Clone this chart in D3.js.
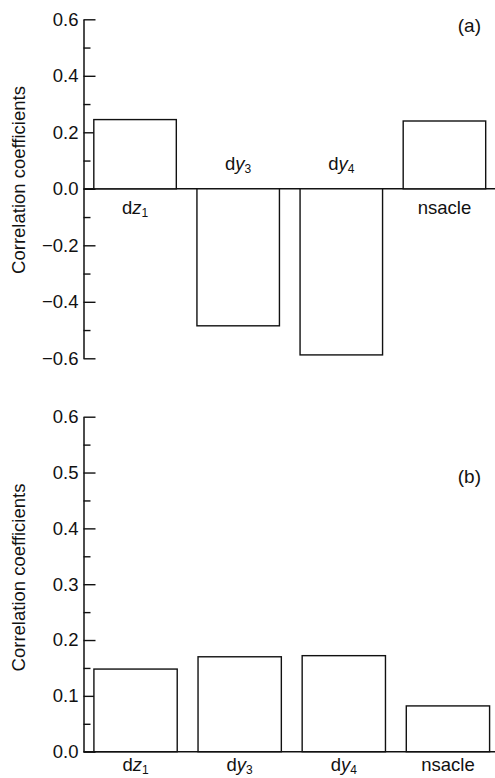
<!DOCTYPE html>
<html>
<head>
<meta charset="utf-8">
<script src="https://cdn.jsdelivr.net/npm/d3@7"></script>
<style>
  body { margin: 0; background: #fff; }
  svg text { font-family: "Liberation Sans", Arial, Helvetica, sans-serif; fill: #111; }
</style>
</head>
<body>
<div id="chart"></div>
<script>
var width = 495;
var height = 778;

// categories (base letter, italic letter, subscript)
var categories = [
    { key: "dz1", pre: "d", ital: "z", sub: "1" },
    { key: "dy3", pre: "d", ital: "y", sub: "3" },
    { key: "dy4", pre: "d", ital: "y", sub: "4" },
    { key: "nsacle", pre: "nsacle", ital: "", sub: "" }
];

// panel (a) values
var valuesA = [0.245, -0.485, -0.588, 0.240];
// panel (b) values
var valuesB = [0.148, 0.170, 0.172, 0.082];

var majorTicksA = [-0.6, -0.4, -0.2, 0.0, 0.2, 0.4, 0.6];
var minorTicksA = [-0.5, -0.3, -0.1, 0.1, 0.3, 0.5];
var majorTicksB = [0.0, 0.1, 0.2, 0.3, 0.4, 0.5, 0.6];
var minorTicksB = [0.05, 0.15, 0.25, 0.35, 0.45, 0.55];

var svg = d3.select("#chart")
    .append("svg")
    .attr("width", width)
    .attr("height", height);

var fmt = d3.format(".1f");

function addLabel(g, cat, x, y) {
    var t = g.append("text")
        .attr("x", x)
        .attr("y", y)
        .attr("text-anchor", "middle")
        .style("font-size", "18.5px");
    t.append("tspan").text(cat.pre);
    if (cat.ital) t.append("tspan").style("font-style", "italic").text(cat.ital);
    if (cat.sub) t.append("tspan").attr("dy", 3.5).style("font-size", "12px").text(cat.sub);
}

function drawPanel(opts) {
    var g = svg.append("g");

    var x = d3.scaleBand()
        .domain(categories.map(function(d) { return d.key; }))
        .range(opts.xRange)
        .paddingInner(0.2)
        .paddingOuter(0.1);

    var y = d3.scaleLinear()
        .domain(opts.yDomain)
        .range(opts.yRange);

    // minor ticks
    g.append("g")
        .attr("transform", "translate(" + opts.axisX + ",0)")
        .call(d3.axisLeft(y).tickValues(opts.minor).tickSize(-7).tickFormat(""))
        .call(function(a) { a.select(".domain").remove(); })
        .selectAll("line").attr("stroke", "#111").attr("stroke-width", 1.4);

    // major ticks + labels
    var ax = g.append("g")
        .attr("transform", "translate(" + opts.axisX + ",0)")
        .call(d3.axisLeft(y).tickValues(opts.major).tickSize(-12).tickSizeOuter(0).tickPadding(5).tickFormat(fmt));
    ax.select(".domain").attr("stroke", "#111").attr("stroke-width", 1.5);
    ax.selectAll("line").attr("stroke", "#111").attr("stroke-width", 1.4);
    ax.selectAll("text")
        .style("font-size", "18.5px")
        .style("font-family", "'Liberation Sans', Arial, sans-serif")
        .attr("fill", "#111");

    // zero line
    g.append("line")
        .attr("x1", opts.axisX)
        .attr("x2", width)
        .attr("y1", y(0))
        .attr("y2", y(0))
        .attr("stroke", "#111")
        .attr("stroke-width", 1.4);

    // bars
    g.selectAll("rect.bar")
        .data(opts.values)
        .enter()
        .append("rect")
        .attr("class", "bar")
        .attr("x", function(d, i) { return x(categories[i].key); })
        .attr("y", function(d) { return y(Math.max(d, 0)); })
        .attr("width", x.bandwidth())
        .attr("height", function(d) { return Math.abs(y(d) - y(0)); })
        .attr("fill", "white")
        .attr("stroke", "#111")
        .attr("stroke-width", 1.4);

    // category labels
    opts.values.forEach(function(v, i) {
        var cx = x(categories[i].key) + x.bandwidth() / 2;
        var ly = v >= 0 ? y(0) + opts.belowGap : y(0) - 19;
        addLabel(g, categories[i], cx, ly);
    });

    // y axis title
    g.append("text")
        .attr("transform", "translate(25," + opts.titleY + ") rotate(-90)")
        .attr("text-anchor", "middle")
        .style("font-size", "18.5px")
        .text("Correlation coefficients");

    // panel tag
    g.append("text")
        .attr("x", 481)
        .attr("y", opts.tagY)
        .attr("text-anchor", "end")
        .style("font-size", "19px")
        .text(opts.tag);
}

drawPanel({
    values: valuesA,
    xRange: [83.5, 496],
    yDomain: [-0.6, 0.6],
    yRange: [358.3, 19.3],
    axisX: 83.5,
    major: majorTicksA,
    minor: minorTicksA,
    belowGap: 25,
    titleY: 180,
    tag: "(a)",
    tagY: 32
});

drawPanel({
    values: valuesB,
    xRange: [83.5, 500],
    yDomain: [0, 0.6],
    yRange: [751.7, 416.7],
    axisX: 83.5,
    major: majorTicksB,
    minor: minorTicksB,
    belowGap: 19,
    titleY: 577.5,
    tag: "(b)",
    tagY: 483
});
</script>
</body>
</html>
